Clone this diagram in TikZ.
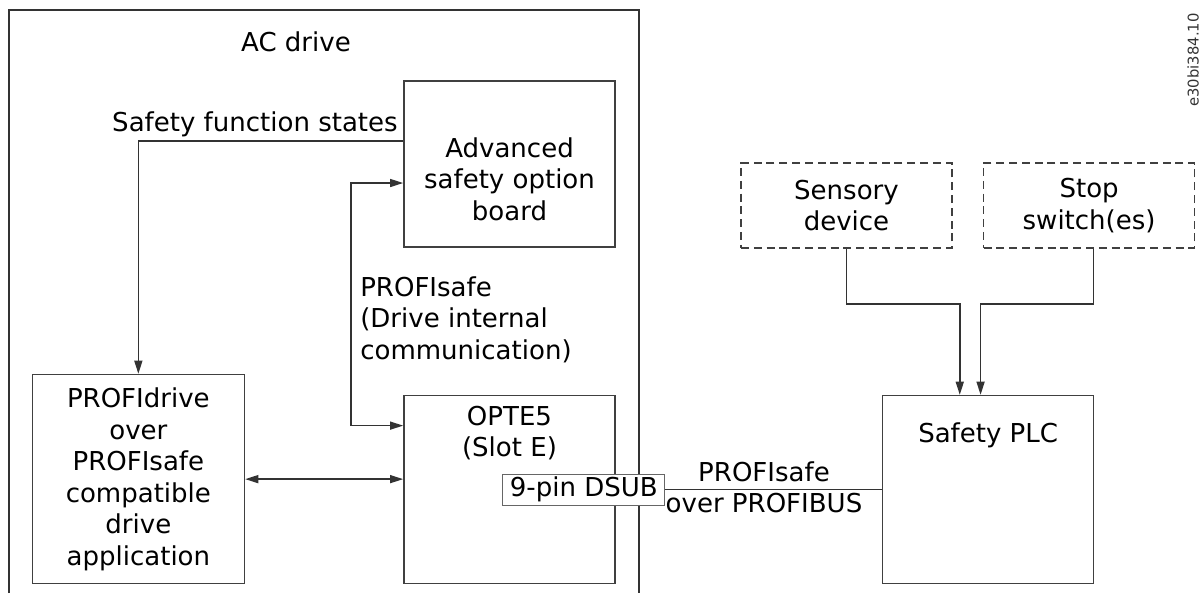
\documentclass[tikz,border=0pt]{standalone}
\usepackage{fontspec}
\setmainfont{DejaVu Sans}
\usepackage{tikz}
\usetikzlibrary{arrows.meta,positioning}

\newcommand{\diagfont}{\fontsize{18.5}{22.4}\selectfont}

\begin{document}
\begin{tikzpicture}[
    x=0.025cm, y=-0.025cm,
    node distance=0.5cm,
    box/.style={rectangle, draw=black!75, line width=1.1pt, align=center, inner sep=0pt, font=\diagfont},
    optbox/.style={box, dash pattern=on 0.2cm off 0.12cm},
    txt/.style={align=center, inner sep=0pt, font=\diagfont},
    line/.style={line width=1.1pt, draw=black!80},
    arrow/.style={line, -{Triangle[length=0.33cm,width=0.2cm]}},
    dblarrow/.style={line, {Triangle[length=0.33cm,width=0.2cm]}-{Triangle[length=0.33cm,width=0.2cm]}}
]
\useasboundingbox (0,0) rectangle (1201,593);

% AC drive frame
\draw[line] (9,593) |- (639,10) -- (639,593);
\node[txt] (acdrive) at (296,42) {AC drive};

% Option board
\node[box, minimum width=5.275cm, minimum height=4.15cm] (adv) at (509.5,164) {};
\node[txt, below=1.425cm of adv.north] (advtxt) {Advanced\\safety option\\board};

% OPTE5
\node[box, minimum width=5.275cm, minimum height=4.7cm, below=3.675cm of adv] (opte) {};
\node[txt, below=0.27cm of opte.north] (optetxt) {OPTE5\\(Slot E)};

% Drive application
\node[box, minimum width=5.3cm, minimum height=5.225cm, left=3.95cm of opte.south west, anchor=south east] (app) {PROFIdrive\\over\\PROFIsafe\\compatible\\drive\\application};

% Labels
\node[txt, anchor=base east] (sfs) at (398,131) {Safety function states};
\node[txt, align=left, anchor=north west] (intcom) at (360,276) {PROFIsafe\\(Drive internal\\communication)};

% Safety PLC
\node[box, minimum width=5.275cm, minimum height=4.7cm, right=6.65cm of opte] (plc) {};
\node[txt, below=0.7cm of plc.north] (plctxt) {Safety PLC};

% Field devices
\node[optbox, minimum width=5.275cm, minimum height=2.125cm] (sensor) at (846.5,205.5) {Sensory\\device};
\node[optbox, minimum width=5.275cm, minimum height=2.125cm, right=0.75cm of sensor] (stop) {Stop\\switch(es)};

% Connector
\node[box, draw=black!60, line width=0.6pt, fill=white, minimum width=4.05cm, minimum height=0.775cm] (dsub) at ([xshift=-0.8cm]opte.east) {9-pin DSUB};
\node[txt, anchor=north] (bus) at (764,461) {PROFIsafe\\over PROFIBUS};

% Figure code
\node[rotate=90, inner sep=0pt, text=black!80, font=\fontsize{10.5}{12}\selectfont] (figcode) at (1193,60) {e30bi384.10};

% Arrows
\draw[arrow] ([yshift=0.575cm]adv.west) -| (app.north);
\draw[dblarrow] ([yshift=-0.475cm]adv.west) -- ++(-52,0) |- ([yshift=1.6cm]opte.west);
\draw[dblarrow] (app.east) -- (app.east -| opte.west);
\draw[line] (dsub.east) -- (dsub.east -| plc.west);
\draw[arrow] (sensor.south) -- ++(0,55) -| ([xshift=-0.71cm]plc.north);
\draw[arrow] ([xshift=0.11cm]stop.south) -- ++(0,55) -| ([xshift=-0.19cm]plc.north);

\end{tikzpicture}
\end{document}
